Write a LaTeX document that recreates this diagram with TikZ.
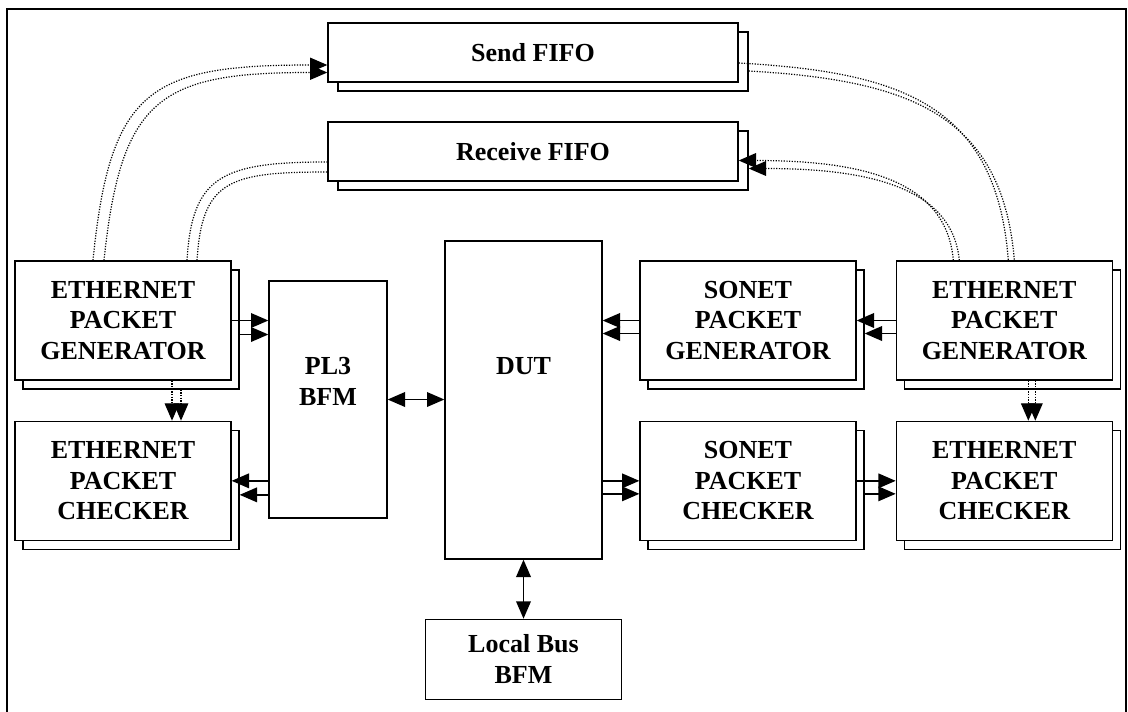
\documentclass[tikz,border=0pt]{standalone}
\usepackage{fontspec}
\setmainfont{Liberation Serif}
\usetikzlibrary{arrows.meta,positioning,calc,shadows}

\begin{document}
\begin{tikzpicture}[
  x=0.75pt, y=-0.75pt,
  font=\bfseries\fontsize{19.5}{23}\selectfont,
  every copy shadow/.style={draw=black, fill=white, line width=1pt},
  block/.style={draw, fill=white, line width=1pt, inner sep=0pt, align=center},
  unit/.style={block, minimum width=162pt, minimum height=89.25pt,
    copy shadow={shadow xshift=6pt, shadow yshift=-6.75pt}},
  fifo/.style={block, minimum width=307.5pt, minimum height=44.25pt,
    copy shadow={shadow xshift=7.5pt, shadow yshift=-6.75pt}},
  flow/.style={-{Triangle[length=13pt,width=11pt]}, line width=1pt},
  both/.style={{Triangle[length=13pt,width=11pt]}-{Triangle[length=13pt,width=11pt]}, line width=1pt},
  link/.style={dash pattern=on 0.9pt off 1.1pt, line width=0.9pt},
  linkarr/.style={link, -{Triangle[length=13pt,width=11pt]}}
]
  \useasboundingbox (0,0) rectangle (1128,711);
  \draw[line width=1.3pt] (7,9) rectangle (1126,725);

  \node[fifo] (sendF) at (533,52.5) {Send FIFO};
  \node[fifo] (recvF) at (533,151.5) {Receive FIFO};

  \node[unit] (egenL) at (123,320.5) {ETHERNET\\PACKET\\GENERATOR};
  \node[unit, below=30pt of egenL] (echkL) {ETHERNET\\PACKET\\CHECKER};
  \node[block, minimum width=88.5pt, minimum height=177.75pt,
    label={[align=center, yshift=13.5pt]center:{PL3\\BFM}}] (pl3) at (328,399.5) {};
  \node[block, minimum width=117.75pt, minimum height=238.5pt,
    label={[yshift=25.5pt]center:DUT}] (dut) at (523.5,400) {};
  \node[block, minimum width=147pt, minimum height=60pt, below=44.25pt of dut] (lbus) {Local Bus\\BFM};

  \node[unit] (sgen) at (748,320.5) {SONET\\PACKET\\GENERATOR};
  \node[unit, right=29.25pt of sgen] (egenR) {ETHERNET\\PACKET\\GENERATOR};
  \node[unit, below=30pt of sgen] (schk) {SONET\\PACKET\\CHECKER};
  \node[unit, below=30pt of egenR] (echkR) {ETHERNET\\PACKET\\CHECKER};

  % left side
  \draw[flow] (egenL.east) -- (egenL.east -| pl3.west);
  \draw[flow] ($(egenL.east)+(8,14)$) -- ($(egenL.east -| pl3.west)+(0,14)$);
  \draw[flow] (echkL.east -| pl3.west) -- (echkL.east);
  \draw[flow] ($(echkL.east -| pl3.west)+(0,14)$) -- ($(echkL.east)+(8,14)$);
  \draw[both] (pl3.east) -- (pl3.east -| dut.west);
  \draw[both] (dut.south) -- (lbus.north);

  % right side
  \draw[flow] (egenR.west) -- (egenR.west -| sgen.east);
  \draw[flow] ($(egenR.west)+(0,13)$) -- ($(egenR.west -| sgen.east)+(8,13)$);
  \draw[flow] (sgen.west) -- (sgen.west -| dut.east);
  \draw[flow] ($(sgen.west)+(0,13)$) -- ($(sgen.west -| dut.east)+(0,13)$);
  \draw[flow] (schk.west -| dut.east) -- (schk.west);
  \draw[flow] ($(schk.west -| dut.east)+(0,13)$) -- ($(schk.west)+(0,13)$);
  \draw[flow] (schk.east) -- (schk.east -| echkR.west);
  \draw[flow] ($(schk.east)+(8,13)$) -- ($(schk.east -| echkR.west)+(0,13)$);

  % generator to checker
  \draw[linkarr] ($(egenL.south)+(49,0)$) -- ($(echkL.north)+(49,0)$);
  \draw[linkarr] ($(egenL.south)+(58,9)$) -- ($(echkL.north)+(58,0)$);
  \draw[linkarr] ($(egenR.south)+(24,0)$) -- ($(echkR.north)+(24,0)$);
  \draw[linkarr] ($(egenR.south)+(31,0)$) -- ($(echkR.north)+(31,0)$);

  % fifo links
  \draw[linkarr] ($(egenL.north)+(-30,0)$) .. controls +(17,-171) and +(-178,0) .. ($(sendF.west)+(0,12.5)$);
  \draw[linkarr] ($(egenL.north)+(-19,0)$) .. controls +(17,-163) and +(-167,0) .. ($(sendF.west)+(0,20)$);
  \draw[link] ($(egenL.north)+(64,0)$) .. controls +(5,-84) and +(-106,0) .. ($(recvF.west)+(0,10.5)$);
  \draw[link] ($(egenL.north)+(74,0)$) .. controls +(5,-80) and +(-98,0) .. ($(recvF.west)+(0,20.5)$);
  \draw[link] ($(sendF.east)+(0,10.5)$) .. controls +(162,9) and +(-12,-156) .. ($(egenR.north)+(4,0)$);
  \draw[link] ($(sendF.east)+(10,18.5)$) .. controls +(157,9) and +(-12,-148) .. ($(egenR.north)+(10,0)$);
  \draw[linkarr] ($(egenR.north)+(-51,0)$) .. controls +(-7,-81) and +(122,0) .. ($(recvF.east)+(0,9)$);
  \draw[linkarr] ($(egenR.north)+(-45,0)$) .. controls +(-7,-73) and +(120,0) .. ($(recvF.east)+(10,17)$);
\end{tikzpicture}
\end{document}
